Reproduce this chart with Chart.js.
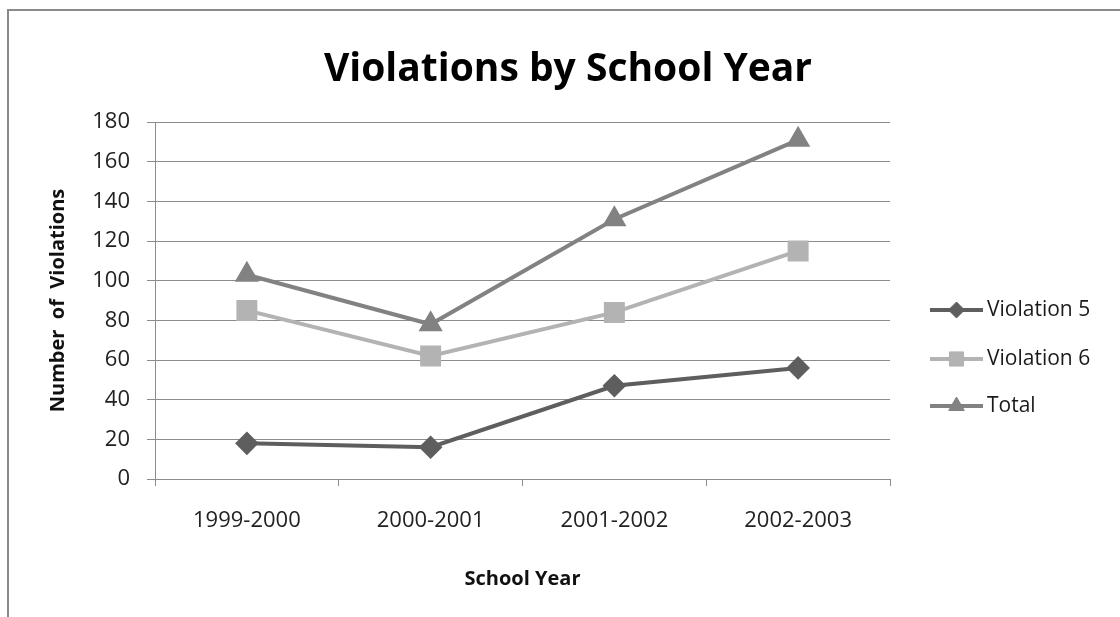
<!DOCTYPE html>
<html>
<head>
<meta charset="utf-8">
<script src="https://cdn.jsdelivr.net/npm/chart.js@4/dist/chart.umd.min.js"></script>
<style>
    html, body { margin: 0; padding: 0; background: #fff; }
    #wrap { position: relative; width: 1120px; height: 617px; overflow: hidden; }
    #frame { position: absolute; left: 7px; top: 9px; width: 1200px; height: 700px; border-top: 2px solid #8a8a8a; border-left: 2px solid #8a8a8a; }
    canvas { position: absolute; left: 0; top: 0; }
</style>
</head>
<body>
<div id="wrap">
    <div id="frame"></div>
    <canvas id="chart" width="1120" height="617"></canvas>
</div>
<script>
const schoolYears = ['1999-2000', '2000-2001', '2001-2002', '2002-2003'];
const violation5 = [18, 16, 47, 56];
const violation6 = [85, 62, 84, 115];
const totals = [103, 78, 131, 171];
const yTicks = [0, 20, 40, 60, 80, 100, 120, 140, 160, 180];

const FONT = "'Open Sans', 'Noto Sans', sans-serif";
const GRID = '#8c8c8c';
const chartTitle = 'Violations by School Year';

// Título centrado en todo el lienzo (como en Excel)
const pageTitle = {
    id: 'pageTitle',
    afterDraw(chart) {
        const ctx = chart.ctx;
        ctx.save();
        ctx.fillStyle = '#000';
        ctx.font = "bold 39px " + FONT;
        ctx.textAlign = 'center';
        ctx.textBaseline = 'middle';
        ctx.fillText(chartTitle, 568, 70);
        ctx.restore();
    }
};

// Leyenda estilo Excel: línea + marcador
const lineLegend = {
    id: 'lineLegend',
    afterDraw(chart) {
        const ctx = chart.ctx;
        const x0 = 930, x1 = 983, xText = 987;
        const rows = [310, 359, 406];
        chart.data.datasets.forEach((ds, i) => {
            const y = rows[i];
            ctx.save();
            ctx.strokeStyle = ds.borderColor;
            ctx.lineWidth = 4;
            ctx.beginPath();
            ctx.moveTo(x0, y);
            ctx.lineTo(x1, y);
            ctx.stroke();
            ctx.fillStyle = ds.borderColor;
            ctx.strokeStyle = ds.borderColor;
            ctx.lineWidth = 1;
            Chart.helpers.drawPoint(ctx, { pointStyle: ds.pointStyle, radius: ds.legendRadius, rotation: 0, borderWidth: 1 }, (x0 + x1) / 2, y);
            ctx.fillStyle = '#1a1a1a';
            ctx.font = "21px " + FONT;
            ctx.textBaseline = 'middle';
            ctx.textAlign = 'left';
            ctx.fillText(ds.label, xText, y);
            ctx.restore();
        });
    }
};

const ctx = document.getElementById('chart').getContext('2d');
new Chart(ctx, {
    type: 'line',
    data: {
        labels: schoolYears,
        datasets: [
            {
                label: 'Violation 5',
                data: violation5,
                borderColor: '#5e5e5e',
                backgroundColor: '#5e5e5e',
                pointStyle: 'rectRot',
                pointRadius: 9,
                legendRadius: 8,
                borderWidth: 4
            },
            {
                label: 'Violation 6',
                data: violation6,
                borderColor: '#b3b3b3',
                backgroundColor: '#b3b3b3',
                pointStyle: 'rect',
                pointRadius: 12,
                legendRadius: 10,
                borderWidth: 4
            },
            {
                label: 'Total',
                data: totals,
                borderColor: '#828282',
                backgroundColor: '#828282',
                pointStyle: 'triangle',
                pointRadius: 10,
                legendRadius: 9,
                borderWidth: 4
            }
        ]
    },
    options: {
        responsive: false,
        animation: false,
        layout: { padding: { left: 0, right: 230, top: 122, bottom: 0 } },
        elements: {
            line: { tension: 0 },
            point: { borderWidth: 1, hoverRadius: 9 }
        },
        scales: {
            x: {
                offset: true,
                afterFit: (scale) => { scale.height = 138; },
                grid: {
                    offset: true,
                    drawOnChartArea: false,
                    drawTicks: true,
                    tickLength: 7,
                    color: GRID
                },
                border: { color: GRID, width: 1 },
                ticks: { color: '#222', padding: 22, font: { family: FONT, size: 22 } },
                title: {
                    display: true,
                    text: 'School Year',
                    color: '#111',
                    font: { family: FONT, size: 20, weight: 'bold' },
                    padding: { top: 0, bottom: 26 }
                }
            },
            y: {
                min: 0,
                max: 180,
                afterFit: (scale) => { scale.width = 155; },
                afterBuildTicks: (scale) => { scale.ticks = yTicks.map(v => ({ value: v })); },
                grid: { color: GRID, tickLength: 8, lineWidth: 1 },
                border: { color: GRID, width: 1 },
                ticks: { color: '#222', padding: 17, font: { family: FONT, size: 22 } },
                title: {
                    display: true,
                    text: 'Number  of  Violations',
                    color: '#111',
                    font: { family: FONT, size: 20, weight: 'bold' },
                    padding: { top: 46, bottom: 0 }
                }
            }
        },
        plugins: {
            legend: { display: false },
            tooltip: { enabled: false },
            title: { display: false }
        }
    },
    plugins: [pageTitle, lineLegend]
});
</script>
</body>
</html>
